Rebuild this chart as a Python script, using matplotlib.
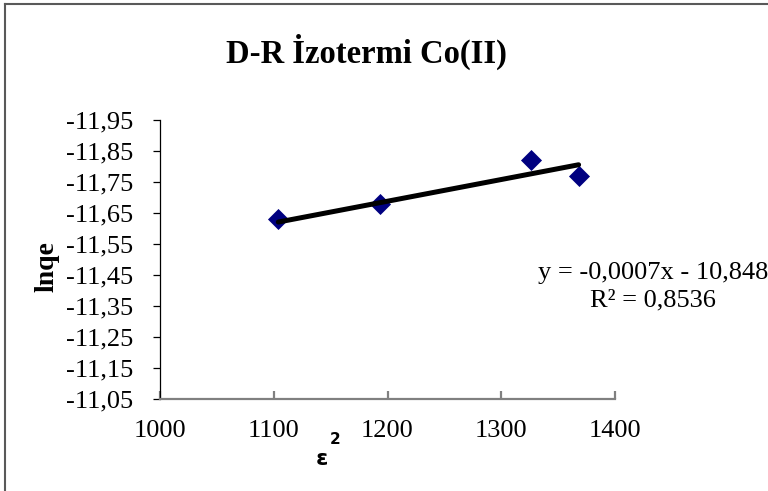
import matplotlib
matplotlib.use("Agg")
import matplotlib.pyplot as plt
from matplotlib.lines import Line2D

# D-R isotherm data for Co(II)
eps2 = [1104, 1193, 1326, 1368]
lnqe = [-11.63, -11.68, -11.82, -11.77]

# linear trendline reported on the chart
slope = -0.0007
intercept = -10.848
r2 = 0.8536

x_ticks = [1000, 1100, 1200, 1300, 1400]
y_ticks = [-11.95, -11.85, -11.75, -11.65, -11.55, -11.45, -11.35, -11.25, -11.15, -11.05]

W, H = 768, 491
serif = ["Liberation Serif", "DejaVu Serif"]

fig = plt.figure(figsize=(W / 100, H / 100), dpi=100)
fig.patch.set_facecolor("white")


def fx(px):
    return px / W


def fy(py):
    return 1 - py / H


ax = fig.add_axes([fx(160), fy(399), fx(615) - fx(160), fy(120) - fy(399)])
ax.set_facecolor("white")

ax.scatter(eps2, lnqe, marker="D", s=115, color="#000080", zorder=3, linewidths=0)
x0, x1 = min(eps2), max(eps2)
ax.plot([x0, x1], [slope * x0 + intercept, slope * x1 + intercept],
        color="black", lw=3.6, solid_capstyle="round", zorder=4)

ax.set_xlim(1000, 1400)
ax.set_ylim(-11.05, -11.95)
ax.set_xticks(x_ticks)
ax.set_yticks(y_ticks)
ax.set_xticklabels([str(v) for v in x_ticks], fontfamily=serif, fontsize=19)
ax.set_yticklabels([f"{v:.2f}".replace(".", ",") for v in y_ticks], fontfamily=serif, fontsize=19)

for s in ["top", "right"]:
    ax.spines[s].set_visible(False)
ax.spines["left"].set_color("black")
ax.spines["left"].set_linewidth(0.9)
ax.spines["bottom"].set_color("#808080")
ax.spines["bottom"].set_linewidth(1.6)

ax.tick_params(axis="y", direction="out", length=5, width=0.9, color="black", pad=14.5)
ax.tick_params(axis="x", direction="in", length=6, width=1.6, color="#808080", pad=15)

# title and axis labels
fig.text(fx(366), fy(52), "D-R İzotermi Co(II)", fontfamily=serif, fontsize=23.5,
         fontweight="bold", ha="center", va="center")
fig.text(fx(47), fy(267), "lnqe", fontfamily=serif, fontsize=20, fontweight="bold",
         rotation=90, ha="center", va="center")
fig.text(fx(322), fy(459), "ε", fontfamily=["DejaVu Sans"], fontsize=16,
         fontweight="bold", ha="center", va="center")
fig.text(fx(335), fy(439), "2", fontfamily=["DejaVu Sans"], fontsize=11,
         fontweight="bold", ha="center", va="center")

# trendline equation
eq = f"y = {slope:.4f}x - {abs(intercept):.3f}".replace(".", ",")
r2_txt = f"R² = {r2:.4f}".replace(".", ",")
fig.text(fx(653), fy(287), eq + "\n" + r2_txt, fontfamily=serif, fontsize=19,
         ha="center", va="center", multialignment="center", linespacing=1.3)

# chart area border
fig.add_artist(Line2D([fx(5), fx(5)], [0, fy(4)], color="#595959", lw=1.5,
                      transform=fig.transFigure))
fig.add_artist(Line2D([fx(5), 1], [fy(4), fy(4)], color="#595959", lw=1.5,
                      transform=fig.transFigure))

fig.savefig("out.png", dpi=100)
